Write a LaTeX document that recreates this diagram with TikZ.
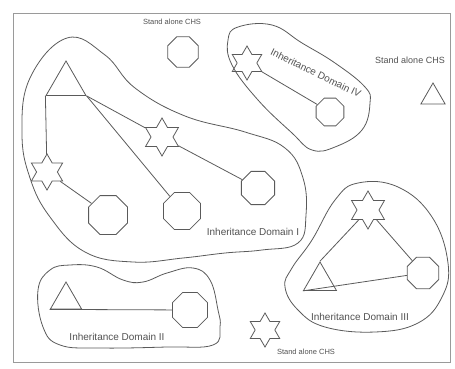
\documentclass[tikz,border=0pt]{standalone}
\usepackage{fontspec}
\setmainfont{Liberation Sans}
\usepackage{tikz}
\usetikzlibrary{shapes.geometric}
\definecolor{Ink}{HTML}{5A5A5A}
\definecolor{Frame}{HTML}{9A9A9A}
\tikzset{
    every node/.style={font=\fontsize{10}{11}\selectfont, text=Ink!90!black},
    chsoct/.style={
        draw=Ink, line width=0.8pt, regular polygon, regular polygon sides=8,
        minimum size=#1, inner sep=0pt
    },
    chsstar/.style={
        draw=Ink, line width=0.8pt, star, star points=6, star point ratio=1.73,
        minimum size=#1, inner sep=0pt
    },
    chstri/.style={
        draw=Ink, line width=0.8pt, regular polygon, regular polygon sides=3,
        minimum size=#1, inner sep=0pt
    },
    idomain/.style={
        draw=Ink, line width=0.8pt
    },
    link/.style={
        draw=Ink, line width=0.8pt
    },
    salbl/.style={font=\fontsize{7.5}{8}\selectfont, inner sep=1pt},
}
\begin{document}
\begin{tikzpicture}[x=1pt, y=-1pt]
    \useasboundingbox (0,0) rectangle (455,369);
    % Frame
    \draw[Frame, line width=0.8pt] (13,13) rectangle (450,362);

    % Stand alone CHS
    \node[chsoct=33pt] (sa1) at (183,52) {};
    \node[salbl] (sa1lbl) at (172,22) {Stand alone CHS};
    \node[chstri=28pt] (sa2) at (433,97) {};
    \node[salbl, font=\fontsize{9}{10}\selectfont] (sa2lbl) at (410,60) {Stand alone CHS};
    \node[chsstar=34pt] (sa3) at (265,330) {};
    \node[salbl] (sa3lbl) at (306,352) {Stand alone CHS};

    % Inheritance Domain I
    \draw[idomain] plot[smooth cycle, tension=0.7] coordinates {
        (67,38) (105,55) (135,88) (185,116) (245,132) (285,148) (303,178)
        (306,215) (298,243) (262,250) (225,253) (183,258) (133,262) (85,252)
        (50,217) (30,178) (22,133) (30,78)};
    \node[chstri=46pt] (t1) at (66,84) {};
    \node[chsstar=36pt] (s1) at (47,172) {};
    \node[chsstar=38pt] (s2) at (162,137) {};
    \node[chsoct=42pt] (o1) at (108,215) {};
    \node[chsoct=40pt] (o2) at (182,211) {};
    \node[chsoct=36pt] (o3) at (258,188) {};
    \draw[link] (t1.corner 2) -- (s1);
    \draw[link] (t1.corner 3) -- (s2);
    \draw[link] (s2) -- (o3);
    \draw[link] (t1.corner 3) -- (o2);
    \draw[link] (s1) -- (o1);
    \node (d1lbl) at (253,232) {Inheritance Domain I};

    % Inheritance Domain II
    \draw[idomain] plot[smooth cycle, tension=0.7] coordinates {
        (50,270) (70,265) (97,267) (123,280) (143,282) (167,273) (193,268)
        (210,280) (218,310) (220,327) (213,345) (167,347) (100,348) (60,345)
        (43,327) (38,290)};
    \node[chstri=36pt] (t2) at (66,300) {};
    \node[chsoct=38pt] (o4) at (190,310) {};
    \draw[link] (t2.corner 2) -- (o4);
    \node (d2lbl) at (117,337) {Inheritance Domain II};

    % Inheritance Domain III
    \draw[idomain] plot[smooth cycle, tension=0.7] coordinates {
        (358,183) (398,187) (432,217) (448,263) (442,297) (418,323) (375,332)
        (325,327) (298,310) (285,287) (292,268) (312,240) (335,200)};
    \node[chsstar=38pt] (s3) at (368,210) {};
    \node[chstri=38pt] (t3) at (320,281) {};
    \node[chsoct=34pt] (o5) at (423,273) {};
    \draw[link] (s3) -- (t3.corner 1);
    \draw[link] (t3.corner 2) -- (o5);
    \draw[link] (s3) -- (o5);
    \node (d3lbl) at (360,317) {Inheritance Domain III};

    % Inheritance Domain IV
    \draw[idomain] plot[smooth cycle, tension=0.7] coordinates {
        (238,27) (272,25) (302,43) (335,63) (365,87) (370,103) (362,130)
        (335,147) (312,150) (292,133) (258,100) (232,65) (228,40)};
    \node[chsstar=34pt] (s4) at (247,63) {};
    \node[chsoct=30pt] (o6) at (330,112) {};
    \draw[link] (s4) -- (o6);
    \node[rotate=-26] (d4lbl) at (316,73) {Inheritance Domain IV};
\end{tikzpicture}
\end{document}
